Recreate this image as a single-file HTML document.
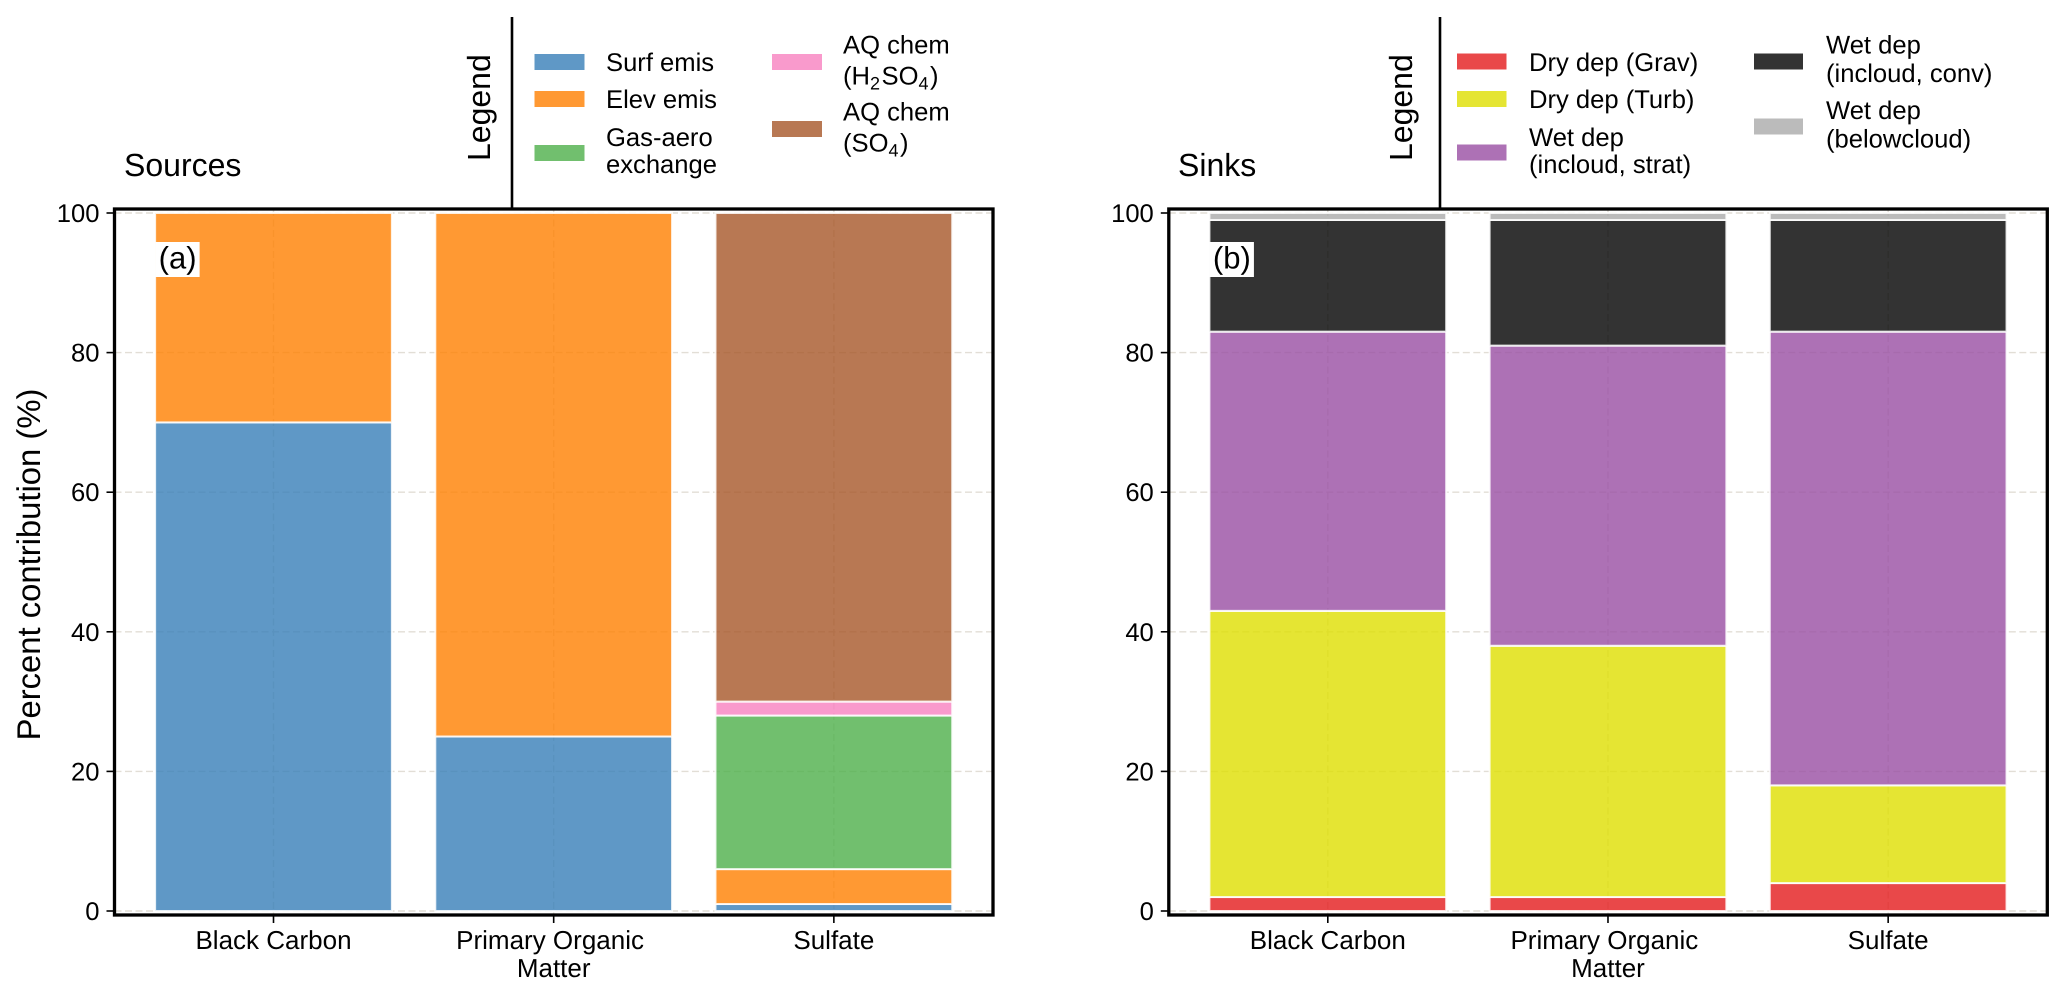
<!DOCTYPE html>
<html lang="en">
<head>
<meta charset="utf-8">
<title>Sources and sinks percent contribution</title>
<style>
html,body{margin:0;padding:0;background:#fff;}
svg{display:block;position:absolute;left:0;top:0;}
text{font-family:"Liberation Sans",Arial,sans-serif;fill:#000;text-rendering:geometricPrecision;}
.leg{font-size:25.6px;}
.tick{font-size:25.6px;}
.xtick{font-size:26px;}
.title{font-size:32px;}
.panel{font-size:31px;}
</style>
</head>
<body>
<svg id="chart" xmlns="http://www.w3.org/2000/svg" width="2067" height="996" viewBox="0 0 2067 996">
  <rect x="0" y="0" width="2067" height="996" fill="#fff"/>
  <g id="panel-a"></g>
  <g id="panel-b"></g>

  <g>
    <text class="title" x="124" y="176">Sources</text>
    <text class="title" transform="translate(490 161) rotate(-90)">Legend</text>
    <line x1="512" x2="512" y1="17" y2="209" stroke="#000" stroke-width="2.6"/>
    <g>
      <rect x="534.5" y="54" width="50" height="16" fill="#377eb8" fill-opacity=".8"/>
      <text class="leg" x="606" y="71">Surf emis</text>
      <rect x="534.5" y="91" width="50" height="16" fill="#ff7f00" fill-opacity=".8"/>
      <text class="leg" x="606" y="108">Elev emis</text>
      <rect x="534.5" y="145" width="50" height="16" fill="#4daf4a" fill-opacity=".8"/>
      <text class="leg" x="606" y="146">Gas-aero<tspan x="606" y="173">exchange</tspan></text>
      <rect x="772" y="54" width="50" height="16" fill="#f781bf" fill-opacity=".8"/>
      <text class="leg" x="843" y="53.5">AQ chem<tspan x="843" y="84.5">(H</tspan><tspan dy="5" font-size="18">2</tspan><tspan dy="-5" dx="1.5">SO</tspan><tspan dy="5" font-size="18">4</tspan><tspan dy="-5" dx="1.5">)</tspan></text>
      <rect x="772" y="121" width="50" height="16" fill="#a65628" fill-opacity=".8"/>
      <text class="leg" x="843" y="120.5">AQ chem<tspan x="843" y="151.5">(SO</tspan><tspan dy="5" font-size="18">4</tspan><tspan dy="-5" dx="1.5">)</tspan></text>
    </g>
  </g>

  <g>
    <text class="title" x="1178" y="176">Sinks</text>
    <text class="title" transform="translate(1412 161) rotate(-90)">Legend</text>
    <line x1="1440" x2="1440" y1="17" y2="209" stroke="#000" stroke-width="2.6"/>
    <g>
      <rect x="1457" y="53.5" width="49.5" height="16" fill="#e41a1c" fill-opacity=".8"/>
      <text class="leg" x="1529" y="71">Dry dep (Grav)</text>
      <rect x="1457" y="91" width="49.5" height="16" fill="#dede00" fill-opacity=".8"/>
      <text class="leg" x="1529" y="108">Dry dep (Turb)</text>
      <rect x="1457" y="144.5" width="49.5" height="16" fill="#984ea3" fill-opacity=".8"/>
      <text class="leg" x="1529" y="146">Wet dep<tspan x="1529" y="173">(incloud, strat)</tspan></text>
      <rect x="1754" y="53.5" width="49" height="16" fill="#000" fill-opacity=".8"/>
      <text class="leg" x="1826" y="53.5">Wet dep<tspan x="1826" y="82">(incloud, conv)</tspan></text>
      <rect x="1754" y="118.5" width="49" height="16" fill="#aaaaaa" fill-opacity=".8"/>
      <text class="leg" x="1826" y="119">Wet dep<tspan x="1826" y="147.5">(belowcloud)</tspan></text>
    </g>
  </g>

  <text class="title" text-anchor="middle" style="font-size:32.8px" transform="translate(40 564.5) rotate(-90)">Percent contribution (%)</text>
</svg>
<script>
// ---- chart data ----
const categories = ["Black Carbon", "Primary Organic\u00A0\nMatter", "Sulfate"];
const yTicks = [0, 20, 40, 60, 80, 100];

const surfEmis = [70, 25, 1];
const elevEmis = [30, 75, 5];
const gasAero = [0, 0, 22];
const aqH2so4 = [0, 0, 2];
const aqSo4 = [0, 0, 70];

const dryGrav = [2, 2, 4];
const dryTurb = [41, 36, 14];
const wetStrat = [40, 43, 65];
const wetConv = [16, 18, 16];
const wetBelow = [1, 1, 1];

const sourceNames = ["surf-emis", "elev-emis", "gas-aero", "aq-h2so4", "aq-so4"];
const sourceValues = [surfEmis, elevEmis, gasAero, aqH2so4, aqSo4];
const sourceColors = ["#377eb8", "#ff7f00", "#4daf4a", "#f781bf", "#a65628"];

const sinkNames = ["dry-grav", "dry-turb", "wet-strat", "wet-conv", "wet-below"];
const sinkValues = [dryGrav, dryTurb, wetStrat, wetConv, wetBelow];
const sinkColors = ["#e41a1c", "#dede00", "#984ea3", "#000000", "#aaaaaa"];

// ---- axes ----
const NS = "http://www.w3.org/2000/svg";
const xDomain = [-0.5675, 2.568];
const yDomain = [0, 100];
const yRange = [911, 213];
const axTop = 209, axBottom = 915;
const barWidth = 0.845;

function yScale(v) {
  return yRange[0] + (v - yDomain[0]) / (yDomain[1] - yDomain[0]) * (yRange[1] - yRange[0]);
}
function makeXScale(left, right) {
  return function (i) {
    return left + (i - xDomain[0]) / (xDomain[1] - xDomain[0]) * (right - left);
  };
}
function mk(parent, tag, attrs) {
  const el = document.createElementNS(NS, tag);
  for (const k in attrs) el.setAttribute(k, attrs[k]);
  parent.appendChild(el);
  return el;
}

function drawPanel(group, left, right, names, values, colors, letter) {
  const xScale = makeXScale(left, right);

  // grid (behind translucent bars)
  yTicks.forEach(function (t) {
    const g = mk(group, "line", {x1: left, x2: right, y1: yScale(t), y2: yScale(t), stroke: "#e2ded6", "stroke-width": 1.4, "stroke-dasharray": "7 3.5"});
    
    
  });
  categories.forEach(function (c, i) {
    const g = mk(group, "line", {x1: xScale(i), x2: xScale(i), y1: axTop, y2: axBottom, stroke: "#e2ded6", "stroke-width": 1.4, "stroke-dasharray": "7 3.5"});
    
    
  });

  // stacked bars
  categories.forEach(function (c, i) {
    let base = 0;
    names.forEach(function (n, s) {
      const v = values[s][i];
      if (v <= 0) return;
      const x0 = xScale(i - barWidth / 2), x1 = xScale(i + barWidth / 2);
      const yT = yScale(base + v), yB = yScale(base);
      const bar = mk(group, "rect", {x: x0, y: yT, width: x1 - x0, height: yB - yT, fill: colors[s], "fill-opacity": 0.8, stroke: "#fff", "stroke-opacity": 0.85, "stroke-width": 2});
      
      
      base += v;
    });
  });

  // spines
  const frame = mk(group, "rect", {x: left, y: axTop, width: right - left, height: axBottom - axTop, fill: "none", stroke: "#000", "stroke-width": 3.3});
  
  

  // y ticks
  yTicks.forEach(function (t) {
    const tk = mk(group, "line", {x1: left - 8, x2: left, y1: yScale(t), y2: yScale(t), stroke: "#000", "stroke-width": 1.6});
    
    
    const lb = mk(group, "text", {"class": "tick", x: left - 15, y: yScale(t) + 9, "text-anchor": "end"});
    
    
    lb.textContent = t;
  });

  // x ticks
  categories.forEach(function (c, i) {
    const tk = mk(group, "line", {x1: xScale(i), x2: xScale(i), y1: axBottom, y2: axBottom + 8, stroke: "#000", "stroke-width": 1.6});
    
    
    c.split("\n").forEach(function (line, k) {
      const lb = mk(group, "text", {"class": "xtick", x: xScale(i), y: 949 + k * 28, "text-anchor": "middle"});
      
      
      lb.textContent = line;
    });
  });

  // panel letter
  const bx = xScale(-barWidth / 2);
  const box = mk(group, "rect", {x: bx, y: 242, width: 44.5, height: 35, fill: "#fff"});
  
  
  const tx = mk(group, "text", {"class": "panel", x: bx + 3.5, y: 268.5});
  
  
  tx.textContent = letter;
}

drawPanel(document.getElementById("panel-a"), 114.5, 993, sourceNames, sourceValues, sourceColors, "(a)");
drawPanel(document.getElementById("panel-b"), 1168.8, 2047.3, sinkNames, sinkValues, sinkColors, "(b)");
</script>
</body>
</html>
